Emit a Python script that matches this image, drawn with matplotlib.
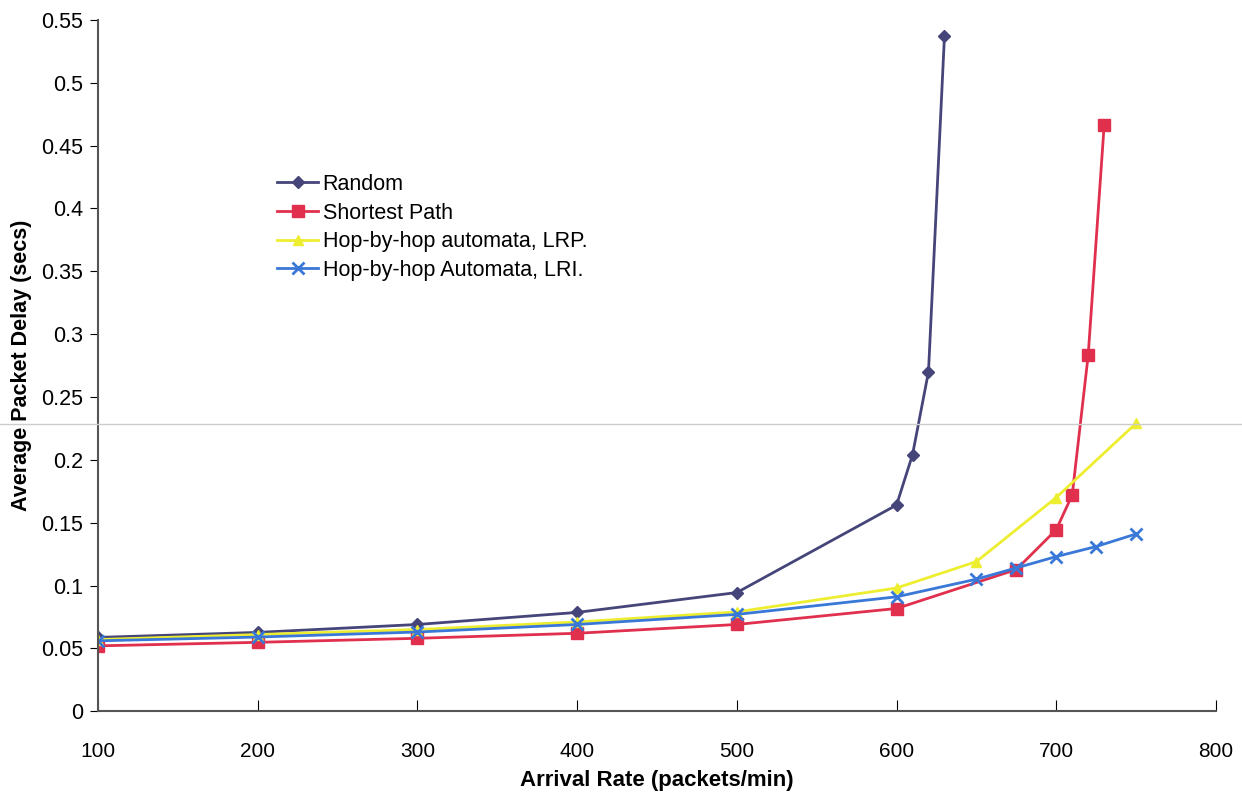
import matplotlib
matplotlib.use("Agg")
from matplotlib import pyplot as plt
from matplotlib.lines import Line2D
import numpy as np

# values
rate_random = [100, 200, 300, 400, 500, 600, 610, 620, 630]
delay_random = [0.0587, 0.0627, 0.069, 0.0786, 0.0944, 0.164, 0.204, 0.270, 0.537]

rate_sp = [100, 200, 300, 400, 500, 600, 675, 700, 710, 720, 730]
delay_sp = [0.052, 0.0548, 0.058, 0.062, 0.069, 0.0817, 0.1127, 0.1444, 0.172, 0.283, 0.466]

rate_lrp = [100, 200, 300, 400, 500, 600, 650, 700, 750]
delay_lrp = [0.057, 0.061, 0.065, 0.071, 0.079, 0.098, 0.119, 0.170, 0.229]

rate_lri = [100, 200, 300, 400, 500, 600, 650, 675, 700, 725, 750]
delay_lri = [0.056, 0.059, 0.063, 0.069, 0.077, 0.091, 0.105, 0.114, 0.123, 0.131, 0.141]

xticks = [100, 200, 300, 400, 500, 600, 700, 800]
yticks = [0, 0.05, 0.1, 0.15, 0.2, 0.25, 0.3, 0.35, 0.4, 0.45, 0.5, 0.55]

plt.rcParams['font.family'] = ['Liberation Sans', 'DejaVu Sans']

fig = plt.figure(figsize=(12.42, 7.92), dpi=100)
ax = fig.add_axes([0.079, 0.102, 0.900, 0.873])

ax.plot(rate_random, delay_random, color='#45457a', marker='D', markersize=6, lw=2, label='Random')
ax.plot(rate_sp, delay_sp, color='#e0304e', marker='s', markersize=8, lw=2, label='Shortest Path')
ax.plot(rate_lrp, delay_lrp, color='#eeee30', marker='^', markersize=7, lw=2, label='Hop-by-hop automata, LRP.')
ax.plot(rate_lri, delay_lri, color='#3a78d8', marker='x', markersize=8, mew=2, lw=2, label='Hop-by-hop Automata, LRI.')

ax.set_xlim(100, 800)
ax.set_ylim(0, 0.55)
ax.set_xticks(xticks)
ax.set_yticks(yticks)
ax.set_yticklabels([('%g' % v) for v in yticks])
ax.tick_params(axis='x', direction='in', length=8, labelsize=15, pad=22)
ax.tick_params(axis='y', direction='out', length=6, labelsize=15.5, pad=5)
ax.spines['top'].set_visible(False)
ax.spines['right'].set_visible(False)
for s in ['left', 'bottom']:
    ax.spines[s].set_color('#555555')
    ax.spines[s].set_linewidth(1.5)

ax.set_xlabel('Arrival Rate (packets/min)', fontsize=16, fontweight='bold', labelpad=7)
ax.set_ylabel('Average Packet Delay (secs)', fontsize=15.5, fontweight='bold', labelpad=6)

ax.legend(loc='upper left', bbox_to_anchor=(0.143, 0.805), frameon=False, fontsize=15.5,
          handlelength=1.9, handletextpad=0.2, labelspacing=0.35)

# faint scan line across the page
fig.add_artist(Line2D([0, 1], [1 - 424 / 792, 1 - 424 / 792], transform=fig.transFigure,
                      color='#cccccc', lw=1))

plt.savefig('out.png', dpi=100)
